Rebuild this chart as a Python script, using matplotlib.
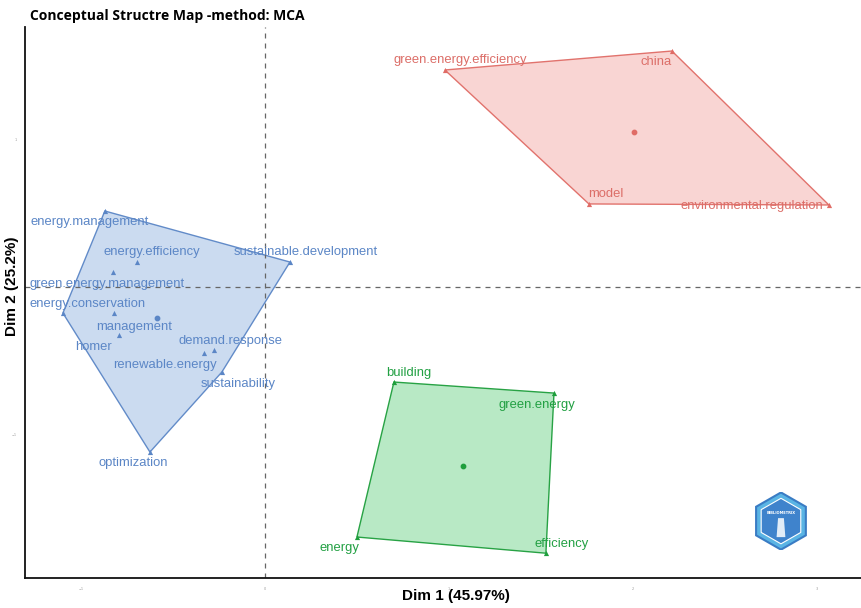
import numpy as np
import matplotlib.pyplot as plt
from matplotlib.patches import Polygon, RegularPolygon

# MCA coordinates of the keywords, grouped by cluster
blue_words = ['energy.management', 'sustainable.development', 'energy.conservation',
              'optimization', 'sustainability', 'energy.efficiency',
              'green.energy.management', 'management', 'homer',
              'demand.response', 'renewable.energy']
blue_x = [-0.87, 0.136, -1.098, -0.625, -0.234, -0.696, -0.826, -0.82, -0.794, -0.277, -0.332]
blue_y = [0.517, 0.17, -0.177, -1.122, -0.578, 0.17, 0.102, -0.177, -0.327, -0.429, -0.449]

red_words = ['green.energy.efficiency', 'china', 'environmental.regulation', 'model']
red_x = [0.978, 2.212, 3.065, 1.761]
red_y = [1.476, 1.605, 0.558, 0.565]

green_words = ['building', 'green.energy', 'efficiency', 'energy']
green_x = [0.701, 1.571, 1.527, 0.5]
green_y = [-0.646, -0.721, -1.81, -1.70]

# label nudges (pixels) so the text sits like ggrepel put it
label_nudge = {
    'energy.management': (-15, -11), 'energy.efficiency': (15, 10),
    'green.energy.management': (-6, -12), 'energy.conservation': (25, 9),
    'management': (20, -14), 'homer': (-25, -12), 'demand.response': (17, 9),
    'renewable.energy': (-39, -12), 'sustainability': (16, -12),
    'optimization': (-17, -11), 'sustainable.development': (16, 10),
    'green.energy.efficiency': (15, 10), 'china': (-16, -11),
    'model': (17, 10), 'environmental.regulation': (-77, -1),
    'building': (15, 9), 'green.energy': (-17, -12),
    'efficiency': (16, 9), 'energy': (-17, -11),
}

clusters = [
    (blue_words, blue_x, blue_y, '#c9d9f0', '#5b86c6', '#5b86c6'),
    (red_words, red_x, red_y, '#f9d3d1', '#e06c66', '#dc6e68'),
    (green_words, green_x, green_y, '#b4e8c2', '#1e9e3c', '#22a043'),
]


def convex_hull(pts):
    pts = sorted(map(tuple, pts))

    def cross(o, a, b):
        return (a[0] - o[0]) * (b[1] - o[1]) - (a[1] - o[1]) * (b[0] - o[0])

    lower, upper = [], []
    for p in pts:
        while len(lower) >= 2 and cross(lower[-2], lower[-1], p) <= 0:
            lower.pop()
        lower.append(p)
    for p in reversed(pts):
        while len(upper) >= 2 and cross(upper[-2], upper[-1], p) <= 0:
            upper.pop()
        upper.append(p)
    return np.array(lower[:-1] + upper[:-1])


fig = plt.figure(figsize=(8.62, 6.08), dpi=100)
ax = fig.add_axes([0.029, 0.049, 0.971, 0.907])

# origin lines sit over the translucent hulls
ax.axvline(0, color='#666666', ls=(0, (4, 4)), lw=0.9, zorder=2.5)
ax.axhline(0, color='#666666', ls=(0, (4, 4)), lw=0.9, zorder=2.5)

for words, xs, ys, fill, edge, tcol in clusters:
    pts = np.column_stack([xs, ys])
    hull = convex_hull(pts)
    ax.add_patch(Polygon(hull, closed=True, facecolor=fill, edgecolor=edge,
                         lw=1.0, alpha=0.95, zorder=2))
    ax.scatter(xs, ys, marker='^', s=14, color=edge, zorder=3, linewidths=0)
    ax.scatter([np.mean(xs)], [np.mean(ys)], marker='o', s=10, color=edge, zorder=3)
    for w, x, y in zip(words, xs, ys):
        ax.annotate(w, (x, y), xytext=label_nudge[w], textcoords='offset pixels',
                    ha='center', va='center', color=tcol, fontsize=9.4,
                    family='Liberation Sans', zorder=4)

ax.set_xlim(-1.304, 3.245)
ax.set_ylim(-1.98, 1.77)
ax.set_xticks([-1, 0, 1, 2, 3])
ax.set_yticks([-1, 1])
ax.tick_params(length=0, labelsize=2.5, labelcolor='#999999', pad=6)
for side in ['top', 'right']:
    ax.spines[side].set_visible(False)
for side in ['left', 'bottom']:
    ax.spines[side].set_linewidth(1.3)
    ax.spines[side].set_color('#111111')

axis_font = ['Liberation Sans Narrow', 'Liberation Sans']
fig.text(0.529, 0.019, 'Dim 1 (45.97%)', fontsize=11, fontweight='bold',
         family=axis_font, ha='center', va='center')
fig.text(0.014, 0.53, 'Dim 2 (25.2%)', fontsize=11, fontweight='bold',
         family=axis_font, ha='center', va='center', rotation=90)
fig.text(0.035, 0.973, 'Conceptual Structre Map -method: MCA', fontsize=10,
         fontweight='bold', family='Open Sans', va='center')

# bibliometrix badge
logo = fig.add_axes([0.872, 0.095, 0.068, 0.096])
logo.set_xlim(-1, 1)
logo.set_ylim(-1, 1)
logo.axis('off')
logo.add_patch(RegularPolygon((0, 0), 6, radius=0.98, facecolor='#5ab4e4',
                              edgecolor='#3a7cc4', lw=1.5))
logo.add_patch(RegularPolygon((0, 0), 6, radius=0.78, facecolor='#3f83cc',
                              edgecolor='white', lw=0.8))
logo.text(0, 0.28, 'BIBLIOMETRIX', color='white', fontsize=2.6,
          fontweight='bold', ha='center', va='center')
logo.add_patch(Polygon([[-0.15, -0.55], [0.15, -0.55], [0.1, 0.1], [-0.1, 0.1]],
                       closed=True, facecolor='white', alpha=0.85, lw=0))

fig.savefig('out.png', dpi=100)
